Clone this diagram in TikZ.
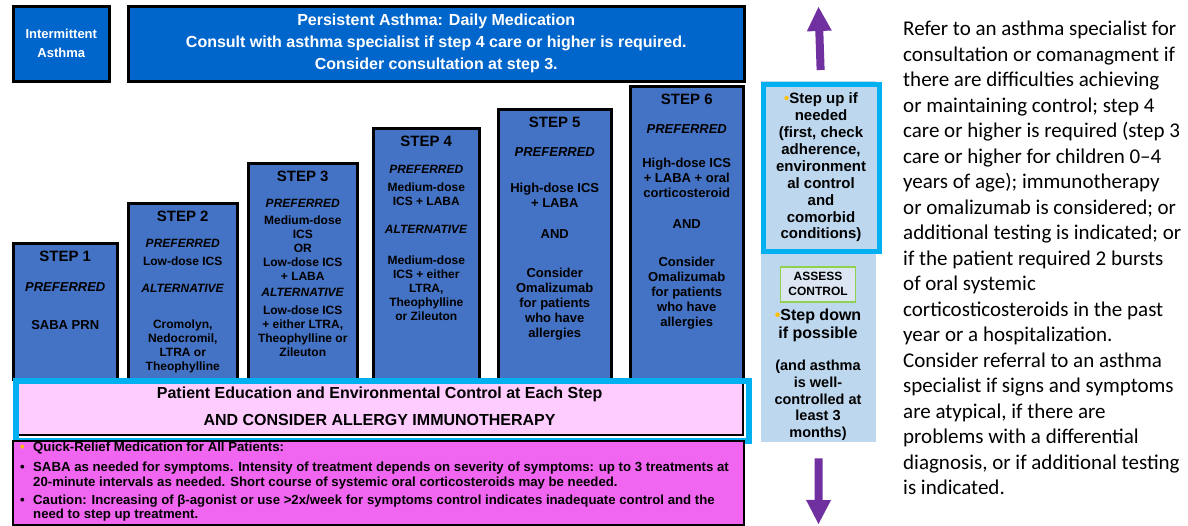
\documentclass[tikz,border=0pt]{standalone}
\usepackage{fontspec}
\setsansfont{Liberation Sans}
\renewcommand{\familydefault}{\sfdefault}
\newfontfamily\calibri{Carlito}
\usetikzlibrary{positioning,arrows.meta}

\definecolor{topblue}{HTML}{0066CC}
\definecolor{stepblue}{HTML}{4472C4}
\definecolor{barcyan}{HTML}{00B0F0}
\definecolor{barpink}{HTML}{FFCCFF}
\definecolor{reliefpink}{HTML}{F066F0}
\definecolor{panelblue}{HTML}{BDD7EE}
\definecolor{arrowpurple}{HTML}{7030A0}
\definecolor{assessgreen}{HTML}{92D050}
\definecolor{assessfill}{HTML}{DCE6F2}
\definecolor{dotyellow}{HTML}{FFC000}

\newcommand{\fs}[2]{\fontsize{#1}{#2}\selectfont}
\newcommand{\ydot}{{\color{dotyellow}\textbullet}}
\newcommand{\bul}[1]{\makebox[13pt][l]{#1}}

\tikzset{
    topbox/.style = {draw=black, line width=2.5pt, fill=topblue, text=white, align=center, anchor=north west, inner sep=0pt},
    stepbox/.style = {draw=black, line width=2.5pt, fill=stepblue, anchor=north west, inner sep=0pt},
    stephead/.style = {font=\bfseries\fs{15}{18}, anchor=north, inner sep=0pt},
    steptext/.style = {font=\bfseries\fs{12}{14}, align=center, anchor=north, inner sep=0pt},
    bigarrow/.style = {draw=arrowpurple, line width=8pt, -{Triangle[length=24pt, width=25pt, line width=0pt, fill=arrowpurple]}},
}

\begin{document}
\begin{tikzpicture}[x=1pt, y=-1pt]
    \useasboundingbox (0,0) rectangle (1188,525);

    % top row
    \node[topbox, minimum width=96pt, minimum height=75pt, font=\bfseries\fs{13}{19}] (inter) at (12,5) {Intermittent\\Asthma};
    \node[topbox, minimum width=616pt, minimum height=75pt, font=\bfseries\fs{16}{22}] (persist) at (127,5)
        {Persistent Asthma: Daily Medication\\Consult with asthma specialist if step 4 care or higher is required.\\Consider consultation at step 3.};

    % the six steps
    \node[stepbox, minimum width=104pt, minimum height=136pt] (s1) at (12,242) {};
    \node[stepbox, minimum width=109pt, minimum height=176pt] (s2) at (127,202) {};
    \node[stepbox, minimum width=109pt, minimum height=216pt] (s3) at (247,162) {};
    \node[stepbox, minimum width=106pt, minimum height=251pt] (s4) at (372,127) {};
    \node[stepbox, minimum width=113pt, minimum height=270pt] (s5) at (497,108) {};
    \node[stepbox, minimum width=113pt, minimum height=293pt] (s6) at (629,85) {};

    \node[stephead, below=9pt of s1.north] (h1) {STEP 1};
    \node[stephead, below=9pt of s2.north] (h2) {STEP 2};
    \node[stephead, below=9pt of s3.north] (h3) {STEP 3};
    \node[stephead, below=9pt of s4.north] (h4) {STEP 4};
    \node[stephead, below=9pt of s5.north] (h5) {STEP 5};
    \node[stephead, below=9pt of s6.north] (h6) {STEP 6};

    \node[steptext, font=\bfseries\fs{13}{15}, below=40pt of s1.north] (b1) {\textit{PREFERRED}\\[23pt]SABA PRN};
    \node[steptext, below=37pt of s2.north] (b2) {\textit{PREFERRED}\\[4pt]Low-dose ICS\\[13pt]\textit{ALTERNATIVE}\\[22pt]
        Cromolyn,\\Nedocromil,\\LTRA or\\Theophylline};
    \node[steptext, below=37pt of s3.north] (b3) {\textit{PREFERRED}\\[3pt]Medium-dose\\ICS\\OR\\Low-dose ICS\\+ LABA\\[2pt]
        \textit{ALTERNATIVE}\\[4pt]Low-dose ICS\\+ either LTRA,\\Theophylline or\\Zileuton};
    \node[steptext, below=38pt of s4.north] (b4) {\textit{PREFERRED}\\[4pt]Medium-dose\\ICS + LABA\\[14pt]\textit{ALTERNATIVE}\\[17pt]
        Medium-dose\\ICS + either\\LTRA,\\Theophylline\\or Zileuton};
    \node[steptext, font=\bfseries\fs{13}{15}, below=39pt of s5.north] (b5) {\textit{PREFERRED}\\[21pt]High-dose ICS\\+ LABA\\[16pt]AND\\[24pt]
        Consider\\Omalizumab\\for patients\\who have\\allergies};
    \node[steptext, font=\bfseries\fs{13}{15}, below=39pt of s6.north] (b6) {\textit{PREFERRED}\\[19pt]High-dose ICS\\+ LABA + oral\\corticosteroid\\[16pt]AND\\[23pt]
        Consider\\Omalizumab\\for patients\\who have\\allergies};

    % education bar
    \node[draw=black, line width=2.2pt, fill=barpink, anchor=north west, inner sep=0pt, minimum width=727pt, minimum height=54pt] (edu) at (15,380) {};
    \node[draw=barcyan, line width=5.5pt, anchor=north west, inner sep=0pt, minimum width=733pt, minimum height=60pt] (eduframe) at (13,378) {};
    \node[font=\bfseries\fs{16}{27}, align=center, inner sep=0pt, yshift=1.5pt] (edutext) at (edu.center)
        {Patient Education and Environmental Control at Each Step\\AND CONSIDER ALLERGY IMMUNOTHERAPY};

    % quick relief
    \node[draw=black, line width=2pt, fill=reliefpink, anchor=north west, inner sep=0pt, minimum width=731pt, minimum height=84pt] (relief) at (12,440) {};
    \node[font=\bfseries\fs{13.2}{14.5}, align=left, anchor=north west, inner sep=0pt] (relieftext) at (20,442)
        {\bul{\ydot}Quick-Relief Medication for All Patients:\\[5.5pt]
         \bul{\textbullet}SABA as needed for symptoms. Intensity of treatment depends on severity of symptoms: up to 3 treatments at\\
         \bul{}20-minute intervals as needed. Short course of systemic oral corticosteroids may be needed.\\[3.5pt]
         \bul{\textbullet}Caution: Increasing of β-agonist or use >2x/week for symptoms control indicates inadequate control and the\\
         \bul{}need to step up treatment.};

    % step up / step down column
    \node[fill=panelblue, anchor=north west, inner sep=0pt, minimum width=115pt, minimum height=361pt] (panel) at (761,81) {};
    \node[draw=barcyan, line width=5pt, fill=panelblue, anchor=north west, inner sep=0pt, minimum width=116pt, minimum height=167pt,
          font=\bfseries\fs{15}{16.9}, align=center] (stepup) at (760.5,81.5)
        {\ydot Step up if\\needed\\(first, check\\adherence,\\environment\\al control\\and\\comorbid\\conditions)};
    \node[draw=assessgreen, line width=1.5pt, fill=assessfill, anchor=north, inner sep=0pt, minimum width=75pt, minimum height=35pt,
          font=\bfseries\fs{12}{15}, align=center] (assess) at (818,266) {ASSESS\\CONTROL};
    \node[font=\bfseries\fs{16}{18}, align=center, anchor=north, inner sep=0pt, below=6pt of assess.south] (stepdown) {\ydot Step down\\if possible};
    \node[font=\bfseries\fs{14.5}{16.8}, align=center, anchor=north, inner sep=0pt, below=18pt of stepdown.south] (wellctrl)
        {(and asthma\\is well-\\controlled at\\least 3\\months)};

    \coordinate (uptip) at (818.5,7);
    \coordinate (downtip) at (818.5,524);
    \draw[bigarrow, shorten <=11.5pt] (stepup.north) -- (uptip);
    \draw[bigarrow, shorten <=16pt] (panel.south) -- (downtip);

    % referral note
    \node[font=\calibri\fs{21}{25.5}, align=left, anchor=north west, inner sep=0pt] (refer) at (903,21)
        {Refer to an asthma specialist for\\
         consultation or comanagment if\\
         there are difficulties achieving\\
         or maintaining control; step 4\\
         care or higher is required (step 3\\
         care or higher for children 0–4\\
         years of age); immunotherapy\\
         or omalizumab is considered; or\\
         additional testing is indicated; or\\
         if the patient required 2 bursts\\
         of oral systemic\\
         corticosticosteroids in the past\\
         year or a hospitalization.\\
         Consider referral to an asthma\\
         specialist if signs and symptoms\\
         are atypical, if there are\\
         problems with a differential\\
         diagnosis, or if additional testing\\
         is indicated.};
\end{tikzpicture}
\end{document}
